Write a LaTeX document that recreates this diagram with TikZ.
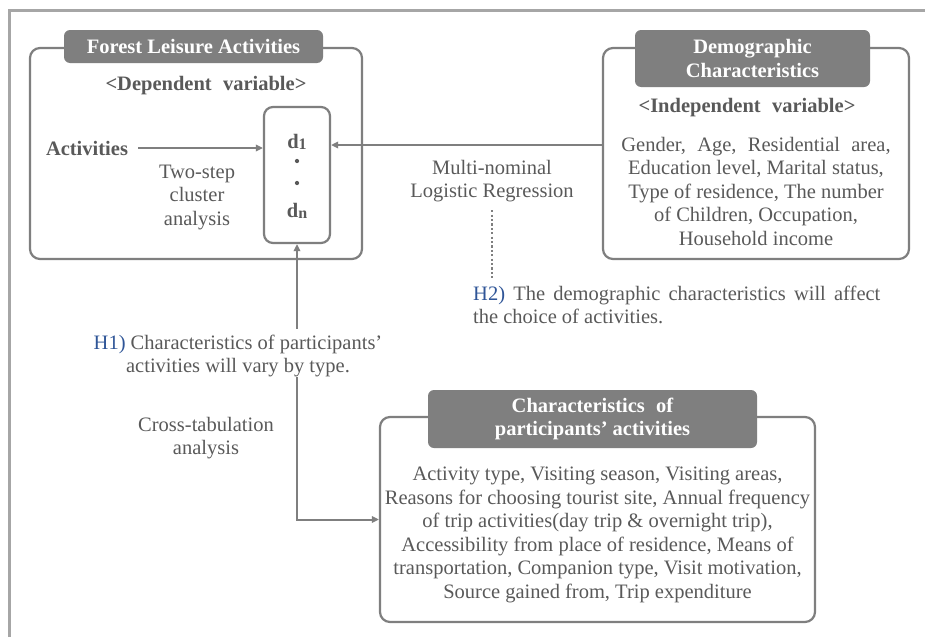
\documentclass[tikz,border=0pt]{standalone}
\usepackage{fontspec}
\setmainfont{Liberation Serif}
\usetikzlibrary{arrows.meta}

\definecolor{linegray}{RGB}{127,127,127}
\definecolor{framegray}{RGB}{166,166,166}
\definecolor{textgray}{RGB}{89,89,89}
\definecolor{hblue}{RGB}{47,85,151}
\newcommand{\bodysize}{\fontsize{20.5}{23.5}\selectfont}
\newcommand{\widespace}{\spaceskip=0.55em plus 0.1em}
\newcommand{\dsub}[1]{{\fontsize{16}{16}\selectfont\raisebox{-1pt}{#1}}}

\tikzset{
  bigbox/.style={draw=linegray, line width=2.2pt, rounded corners=10pt, fill=white, inner sep=0pt},
  tabbox/.style={fill=linegray, rounded corners=6pt, text=white, font=\bfseries\bodysize, align=center, inner sep=0pt},
  plain/.style={text=textgray, font=\bodysize, align=center, inner sep=0pt},
  bold/.style={plain, font=\bfseries\bodysize},
  dotmark/.style={circle, fill=textgray, inner sep=1.5pt},
  arr/.style={draw=linegray, line width=2pt, -{Triangle[length=7pt,width=6.5pt]}},
  dotline/.style={draw=linegray, line width=2.2pt, dash pattern=on 2.2pt off 2.2pt},
}

\begin{document}
\begin{tikzpicture}[x=1pt, y=-1pt]

    \useasboundingbox (0,0) rectangle (925,637);

    % Outer frame
    \draw[framegray, line width=3pt] (9.5,637) -- (9.5,10.5) -- (925,10.5);

    % Forest leisure activities (dependent variable)
    \node[bigbox, minimum width=332pt, minimum height=211pt] (forest) at (196,153.5) {};
    \node[tabbox, minimum width=259pt, minimum height=33pt] (ftab) at (193.5,46.5) {Forest Leisure Activities};
    \node[bold] (depvar) at (206,86) {\widespace<Dependent variable>};
    \node[bold] (act) at (87,148) {Activities};
    \node[plain] (twostep) at (197,197) {Two-step\\cluster\\analysis};

    \node[bigbox, rounded corners=9pt, minimum width=66pt, minimum height=136pt] (dbox) at (297,175) {};
    \node[bold] (d1) at (297,142) {d\dsub{1}};
    \node[dotmark] (dota) at (297,161) {};
    \node[dotmark] (dotb) at (297,183) {};
    \node[bold] (dn) at (297,211) {d\dsub{n}};

    % Demographic characteristics (independent variable)
    \node[bigbox, minimum width=306pt, minimum height=211pt] (demo) at (756,153.5) {};
    \node[tabbox, minimum width=235pt, minimum height=57pt] (dtab) at (752.5,58.5) {Demographic\\Characteristics};
    \node[bold] (indvar) at (747,108) {\widespace<Independent variable>};
    \node[plain] (demolist) at (756,191) {\widespace Gender, Age, Residential area,\\Education level, Marital status,\\Type of residence, The number\\of Children, Occupation,\\Household income};

    \node[plain] (mlr) at (492,181) {Multi-nominal\\Logistic Regression};
    \node[plain, align=left, anchor=west] (h2) at (473,305) {\spaceskip=0.4em plus 0.1em{\color{hblue}H2)} The demographic characteristics will affect\\the choice of activities.};

    % Characteristics of participants' activities
    \node[bigbox, minimum width=435pt, minimum height=205pt] (part) at (597.5,519.5) {};
    \node[tabbox, minimum width=329pt, minimum height=58pt] (ptab) at (592.5,419) {\widespace Characteristics of\\participants’ activities};
    \node[plain] (plist) at (597.5,535) {Activity type, Visiting season, Visiting areas,\\Reasons for choosing tourist site, Annual frequency\\of trip activities(day trip \& overnight trip),\\Accessibility from place of residence, Means of\\transportation, Companion type, Visit motivation,\\Source gained from, Trip expenditure};

    \node[plain] (h1) at (238,356) {{\color{hblue}H1)} Characteristics of participants’\\activities will vary by type.};
    \node[plain] (crosstab) at (206,438) {Cross-tabulation\\analysis};

    % Connectors
    \draw[arr, shorten <=10pt] (act.east) -- (act.east -| dbox.west);
    \draw[arr] ([yshift=-3pt]demo.west |- d1) -- ([yshift=-3pt]dbox.east |- d1);
    \draw[arr] ([yshift=6pt]h1.north -| dbox.south) -- (dbox.south);
    \draw[arr] (h1.south -| dbox.south) |- (part.west);
    \draw[dotline, shorten <=8pt, shorten >=8pt] (mlr.south) -- (mlr.south |- h2.north);

\end{tikzpicture}
\end{document}
